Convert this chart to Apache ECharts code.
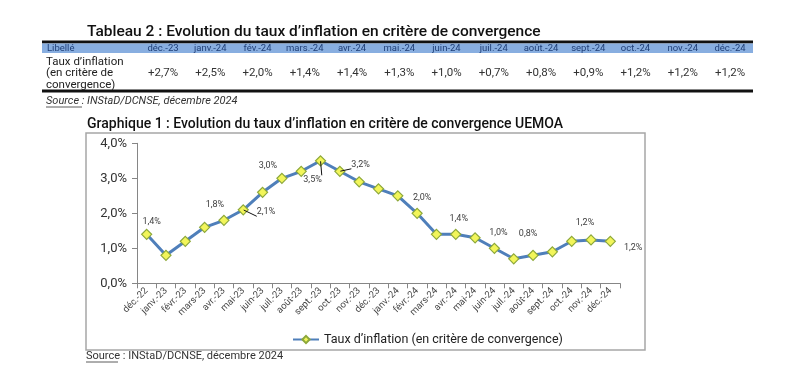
<!DOCTYPE html>
<html><head><meta charset="utf-8">
<script src="https://cdn.jsdelivr.net/npm/echarts@6/dist/echarts.min.js"></script>
<style>html,body{margin:0;padding:0;background:#fff}#c{width:800px;height:367px}</style>
</head><body><div id="c"></div>
<script>
const categories = ['déc.-22','janv.-23','févr.-23','mars-23','avr.-23','mai-23','juin-23','juil.-23','août-23','sept.-23','oct.-23','nov.-23','déc.-23','janv.-24','févr.-24','mars-24','avr.-24','mai-24','juin-24','juil.-24','août-24','sept.-24','oct.-24','nov.-24','déc.-24'];
const inflation = [1.4,0.8,1.2,1.6,1.8,2.1,2.6,3.0,3.2,3.5,3.2,2.9,2.7,2.5,2.0,1.4,1.4,1.3,1.0,0.7,0.8,0.9,1.2,1.24,1.2];
const yTicks = [0,1,2,3,4];
const tableHeaders = ['déc.-23','janv.-24','fév.-24','mars.-24','avr.-24','mai.-24','juin-24','juil.-24','août.-24','sept.-24','oct.-24','nov.-24','déc.-24'];
const tableValues = ['+2,7%','+2,5%','+2,0%','+1,4%','+1,4%','+1,3%','+1,0%','+0,7%','+0,8%','+0,9%','+1,2%','+1,2%','+1,2%'];
const rowLabel = ['Taux d\u2019inflation','(en critère de','convergence)'];
const FONT = 'Roboto, "Liberation Sans", sans-serif';
const SERIES_NAME = 'Taux d\u2019inflation (en critère de convergence)';

// label placement per point index (only labelled points); "line" = leader line
const labelCfg = {
  0:{position:'top',offset:[5,3]},
  4:{position:'top',offset:[-9,0]},
  5:{position:'right',offset:[8,2],line:true},
  7:{position:'top',offset:[-14,3]},
  9:{position:'bottom',offset:[-8,9],line:true},
  10:{position:'right',offset:[6,-7],line:true},
  14:{position:'top',offset:[5,0]},
  16:{position:'top',offset:[3,0]},
  18:{position:'top',offset:[4,0]},
  20:{position:'top',offset:[-5,-6]},
  23:{position:'top',offset:[-6,-2]},
  24:{position:'right',offset:[3,6]}
};
const fmt = v => (Math.round(v*10)/10).toFixed(1).replace('.',',') + '%';
const mainData = inflation.map((v,i)=>{
  const c = labelCfg[i];
  if(!c || c.line) return {value:v, label:{show:false}};
  return {value:v, label:{show:true, position:c.position, offset:c.offset}};
});
const leaderData = inflation.map((v,i)=>{
  const c = labelCfg[i];
  if(!c || !c.line) return {value:v, label:{show:false}};
  return {value:v, label:{show:true, position:c.position, offset:c.offset}};
});

const graphics = [];
graphics.push({type:'text', left:87, top:24, style:{text:'Tableau 2 : Evolution du taux d\u2019inflation en critère de convergence', font:'500 15.5px '+FONT, fill:'#111'}});
graphics.push({type:'rect', shape:{x:42,y:40.5,width:711,height:3}, style:{fill:'#111'}});
graphics.push({type:'rect', shape:{x:42,y:43.5,width:711,height:9.5}, style:{fill:'#88AEE0'}});
graphics.push({type:'rect', shape:{x:42,y:89.5,width:711,height:3}, style:{fill:'#111'}});
graphics.push({type:'text', x:47, y:48.5, style:{text:'Libellé', font:'9.5px '+FONT, fill:'#1F3F77', verticalAlign:'middle'}});
tableHeaders.forEach((h,i)=>{
  const cx = 163 + i*47.25;
  graphics.push({type:'text', x:cx, y:48.5, style:{text:h, font:'9.5px '+FONT, fill:'#1F3F77', align:'center', verticalAlign:'middle'}});
  graphics.push({type:'text', x:cx, y:73.5, style:{text:tableValues[i], font:'11.5px '+FONT, fill:'#333', align:'center', verticalAlign:'middle'}});
});
rowLabel.forEach((t,i)=>{
  graphics.push({type:'text', x:46, y:62+i*11.5, style:{text:t, font:'11.5px '+FONT, fill:'#222', verticalAlign:'middle'}});
});
graphics.push({type:'text', x:46, y:101, style:{text:'Source : INStaD/DCNSE, décembre 2024', font:'italic 11px '+FONT, fill:'#333', verticalAlign:'middle'}});
graphics.push({type:'line', shape:{x1:46,y1:107,x2:82,y2:107}, style:{stroke:'#333', lineWidth:0.8}});
graphics.push({type:'text', left:87, top:117, style:{text:'Graphique 1 : Evolution du taux d\u2019inflation en critère de convergence UEMOA', font:'500 14px '+FONT, fill:'#111'}});
graphics.push({type:'rect', z:-1, shape:{x:86,y:133,width:559,height:217}, style:{fill:'none', stroke:'#A6A6A6', lineWidth:1.5}});
graphics.push({type:'text', x:86, y:356, style:{text:'Source : INStaD/DCNSE, décembre 2024', font:'11px '+FONT, fill:'#333', verticalAlign:'middle'}});
graphics.push({type:'line', shape:{x1:86,y1:362,x2:118,y2:362}, style:{stroke:'#333', lineWidth:0.8}});

const chart = echarts.init(document.getElementById('c'), null, {renderer:'canvas'});
chart.setOption({
  animation:false,
  textStyle:{fontFamily:FONT},
  graphic:graphics,
  grid:{left:137, right:180, top:143.3, bottom:83.7, containLabel:false},
  legend:{left:287, top:328, itemWidth:26, itemHeight:9, itemGap:4,
    textStyle:{fontSize:12.5, color:'#222', fontFamily:FONT},
    data:[SERIES_NAME]},
  xAxis:{type:'category', data:categories, boundaryGap:true,
    axisLine:{lineStyle:{color:'#868686', width:1}},
    axisTick:{show:true, alignWithLabel:false, length:5, lineStyle:{color:'#868686'}},
    axisLabel:{interval:0, rotate:45, fontSize:9.5, color:'#444', margin:6, fontFamily:FONT}},
  yAxis:{type:'value', min:0, max:4, interval:1,
    axisLine:{show:true, lineStyle:{color:'#868686', width:1}},
    axisTick:{show:true, length:5, lineStyle:{color:'#868686'}},
    splitLine:{show:false},
    axisLabel:{fontSize:13, color:'#333', margin:10, fontFamily:FONT,
      formatter:v=>v.toFixed(1).replace('.',',')+'%'}},
  series:[{
    name:SERIES_NAME,
    type:'line', data:mainData,
    symbol:'diamond', symbolSize:10,
    lineStyle:{color:'#4F7FBA', width:3},
    itemStyle:{color:'#F2F55A', borderColor:'#8DA83A', borderWidth:1.2},
    label:{fontSize:9, color:'#404040', fontFamily:FONT, formatter:p=>fmt(p.value)},
    labelLine:{show:false},
    z:3
  },{
    name:'leader',
    type:'line', data:leaderData,
    symbol:'circle', symbolSize:1, silent:true,
    lineStyle:{width:0, opacity:0},
    itemStyle:{color:'rgba(0,0,0,0)', borderWidth:0},
    label:{fontSize:9, color:'#404040', fontFamily:FONT, formatter:p=>fmt(p.value)},
    labelLine:{show:true, lineStyle:{color:'#111', width:1}},
    z:4
  }]
});
</script></body></html>
